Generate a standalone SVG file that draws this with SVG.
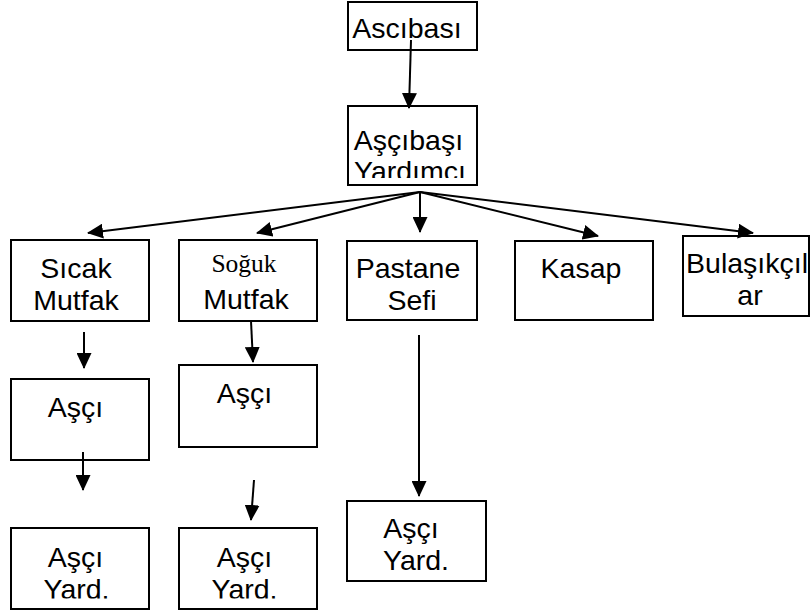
<svg xmlns="http://www.w3.org/2000/svg" width="811" height="611" viewBox="0 0 811 611">
<style>
.box{fill:#fff;stroke:#000;stroke-width:2}
.t{font-family:"Liberation Sans",Arial,sans-serif;font-size:28.5px;fill:#000;text-anchor:middle}
.s{font-family:"Liberation Serif","Times New Roman",serif;font-size:25.5px;fill:#000;text-anchor:middle}
.c line{stroke:#000;stroke-width:2;marker-end:url(#ah)}
</style>
<defs>
<marker id="ah" viewBox="0 0 16 15" refX="15" refY="7.5" markerWidth="16" markerHeight="15" markerUnits="userSpaceOnUse" orient="auto">
<path d="M0,0 L16,7.5 L0,15 z" fill="#000"/>
</marker>
<clipPath id="c1"><rect x="348" y="100" width="129" height="78"/></clipPath>
<clipPath id="c2"><rect x="683" y="230" width="128" height="75"/></clipPath>
<clipPath id="c3"><rect x="0" y="520" width="811" height="78.5"/></clipPath>
<clipPath id="c4"><rect x="347" y="495" width="139" height="75.5"/></clipPath>
</defs>
<g id="ascibasi"><rect class="box" x="348" y="2" width="129" height="48"/><text class="t" x="407" y="38">Ascıbası</text></g>
<g id="yardimci"><rect class="box" x="348" y="106" width="129" height="79"/><text class="t" x="408.5" y="150">Aşçıbaşı</text><text class="t" x="410" y="181" clip-path="url(#c1)">Yardımcı</text></g>
<g id="sicak"><rect class="box" x="11" y="240" width="138" height="81"/><text class="t" x="76" y="278">Sıcak</text><text class="t" x="76" y="310">Mutfak</text></g>
<g id="soguk"><rect class="box" x="179" y="240" width="138" height="81"/><text class="s" x="244" y="272">Soğuk</text><text class="t" x="246" y="309">Mutfak</text></g>
<g id="pastane"><rect class="box" x="347" y="241" width="130" height="79"/><text class="t" x="408" y="278">Pastane</text><text class="t" x="412" y="310">Sefi</text></g>
<g id="kasap"><rect class="box" x="515" y="241" width="138" height="79"/><text class="t" x="581" y="278">Kasap</text></g>
<g id="bulasik"><rect class="box" x="683" y="236" width="126" height="80"/><text class="t" x="747" y="273">Bulaşıkçıl</text><text class="t" x="750" y="305" clip-path="url(#c2)">ar</text></g>
<g id="asci1"><rect class="box" x="11" y="379" width="138" height="81"/><text class="t" x="75.5" y="417">Aşçı</text></g>
<g id="asci2"><rect class="box" x="179" y="365" width="138" height="82"/><text class="t" x="244.5" y="403">Aşçı</text></g>
<g id="yard1"><rect class="box" x="11" y="528" width="138" height="81"/><text class="t" x="75.5" y="567">Aşçı</text><text class="t" x="76.5" y="599" clip-path="url(#c3)">Yard.</text></g>
<g id="yard2"><rect class="box" x="179" y="528" width="138" height="81"/><text class="t" x="244.5" y="567">Aşçı</text><text class="t" x="244.5" y="599" clip-path="url(#c3)">Yard.</text></g>
<g id="yard3"><rect class="box" x="347" y="501" width="139" height="80"/><text class="t" x="411" y="538">Aşçı</text><text class="t" x="416" y="570" clip-path="url(#c4)">Yard.</text></g>
<g id="connectors" class="c">
<line x1="411" y1="40" x2="409" y2="108"/>
<line x1="420" y1="192" x2="88" y2="233"/>
<line x1="420" y1="192" x2="257" y2="233"/>
<line x1="420" y1="192" x2="420" y2="232"/>
<line x1="420" y1="192" x2="598" y2="236"/>
<line x1="420" y1="192" x2="753" y2="233"/>
<line x1="84" y1="332" x2="84" y2="368"/>
<line x1="251" y1="321" x2="253" y2="362"/>
<line x1="83" y1="452" x2="83" y2="490"/>
<line x1="254" y1="480" x2="251" y2="520"/>
<line x1="419" y1="335" x2="419" y2="496"/>
</g>
</svg>
